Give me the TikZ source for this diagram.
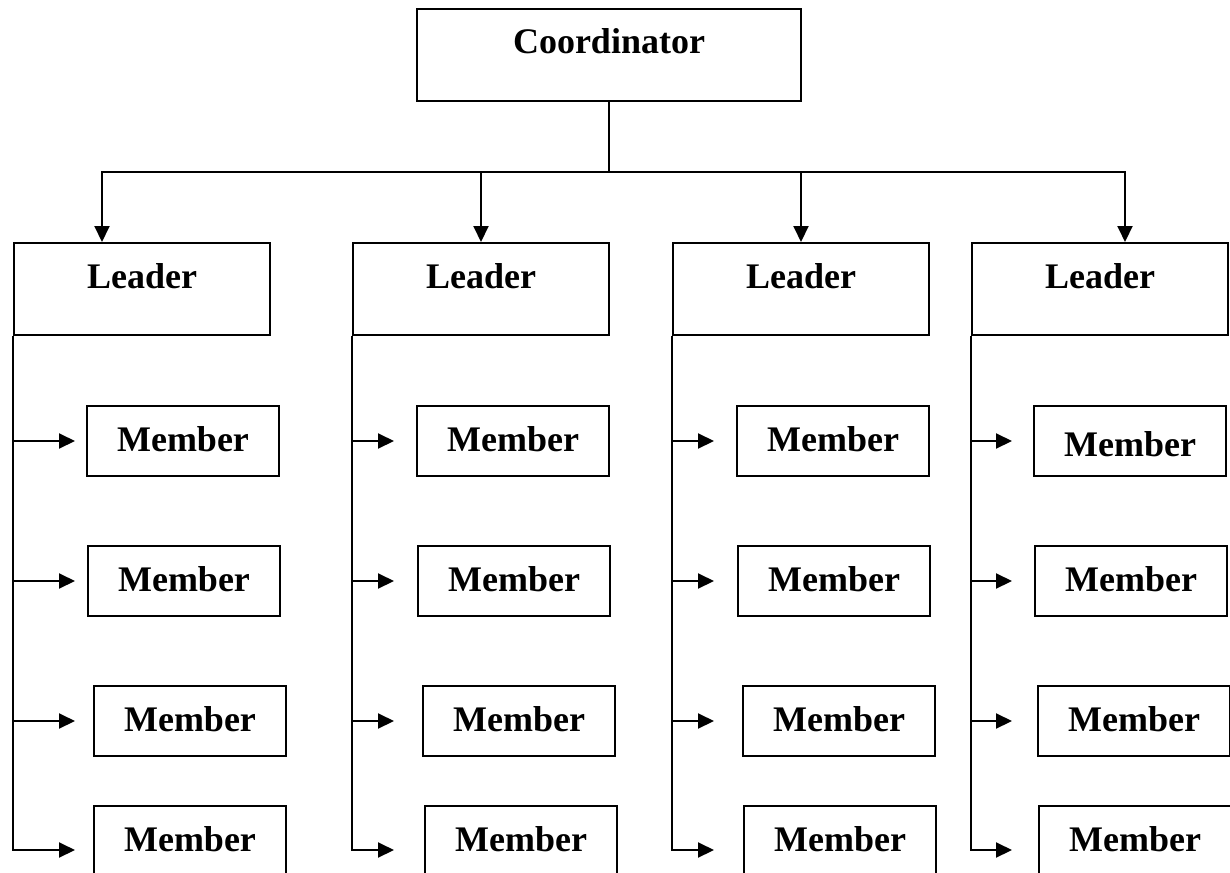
\documentclass[tikz,border=0pt]{standalone}
\usepackage{fontspec}
\setmainfont{Liberation Serif}
\usepackage{tikz}
\usetikzlibrary{arrows.meta}

\begin{document}
\begin{tikzpicture}[x=1pt,y=-1pt,
		orgbox/.style={draw, line width=2pt, inner sep=0pt, text height=45pt, anchor=north west, font=\fontsize{36}{43}\selectfont\bfseries},
		coordbox/.style={orgbox, minimum width=384pt, text depth=47pt},
		leaderbox/.style={orgbox, minimum width=256pt, text depth=47pt},
		memberbox/.style={orgbox, minimum width=192pt, text depth=25pt},
		wire/.style={line width=2pt},
		arr/.style={line width=2pt, -{Triangle[length=16pt,width=15pt]}}]
		\useasboundingbox (0,0) rectangle (1230,872);
		\clip (0,0) rectangle (1230,872);
		\node[coordbox] (C) at (416,8) {Coordinator};
		\node[leaderbox] (L1) at (13,242) {Leader};
		\node[leaderbox] (L2) at (352,242) {Leader};
		\node[leaderbox] (L3) at (672,242) {Leader};
		\node[leaderbox] (L4) at (971,242) {Leader};
		\node[memberbox] (M11) at (86,405) {Member};
		\node[memberbox] (M12) at (87,545) {Member};
		\node[memberbox] (M13) at (93,685) {Member};
		\node[memberbox, text depth=43pt] (M14) at (93,805) {Member};
		\node[memberbox] (M21) at (416,405) {Member};
		\node[memberbox] (M22) at (417,545) {Member};
		\node[memberbox] (M23) at (422,685) {Member};
		\node[memberbox, text depth=43pt] (M24) at (424,805) {Member};
		\node[memberbox] (M31) at (736,405) {Member};
		\node[memberbox] (M32) at (737,545) {Member};
		\node[memberbox] (M33) at (742,685) {Member};
		\node[memberbox, text depth=43pt] (M34) at (743,805) {Member};
		\node[memberbox, text height=50pt, text depth=20pt] (M41) at (1033,405) {Member};
		\node[memberbox] (M42) at (1034,545) {Member};
		\node[memberbox] (M43) at (1037,685) {Member};
		\node[memberbox, text depth=43pt] (M44) at (1038,805) {Member};
		\coordinate (bl) at (102,172);
		\coordinate (br) at (1125,172);
		\draw[wire] (C.south) -- (C.south |- bl);
		\draw[arr] (C.south |- bl) -- (bl) -- (bl |- L1.north);
		\draw[arr] (C.south |- bl) -- (br) -- (br |- L4.north);
		\draw[arr] (L2.north |- bl) -- (L2.north);
		\draw[arr] (L3.north |- bl) -- (L3.north);
		\draw[arr, shorten >=11pt] (L1.south west) |- (M11.west);
		\draw[arr, shorten >=12pt] (L1.south west) |- (M12.west);
		\draw[arr, shorten >=18pt] (L1.south west) |- (M13.west);
		\draw[arr, shorten >=18pt] (L1.south west) |- (M14.west);
		\draw[arr, shorten >=22pt] (L2.south west) |- (M21.west);
		\draw[arr, shorten >=23pt] (L2.south west) |- (M22.west);
		\draw[arr, shorten >=28pt] (L2.south west) |- (M23.west);
		\draw[arr, shorten >=30pt] (L2.south west) |- (M24.west);
		\draw[arr, shorten >=22pt] (L3.south west) |- (M31.west);
		\draw[arr, shorten >=23pt] (L3.south west) |- (M32.west);
		\draw[arr, shorten >=28pt] (L3.south west) |- (M33.west);
		\draw[arr, shorten >=29pt] (L3.south west) |- (M34.west);
		\draw[arr, shorten >=21pt] (L4.south west) |- (M41.west);
		\draw[arr, shorten >=22pt] (L4.south west) |- (M42.west);
		\draw[arr, shorten >=25pt] (L4.south west) |- (M43.west);
		\draw[arr, shorten >=26pt] (L4.south west) |- (M44.west);
		\end{tikzpicture}
\end{document}
